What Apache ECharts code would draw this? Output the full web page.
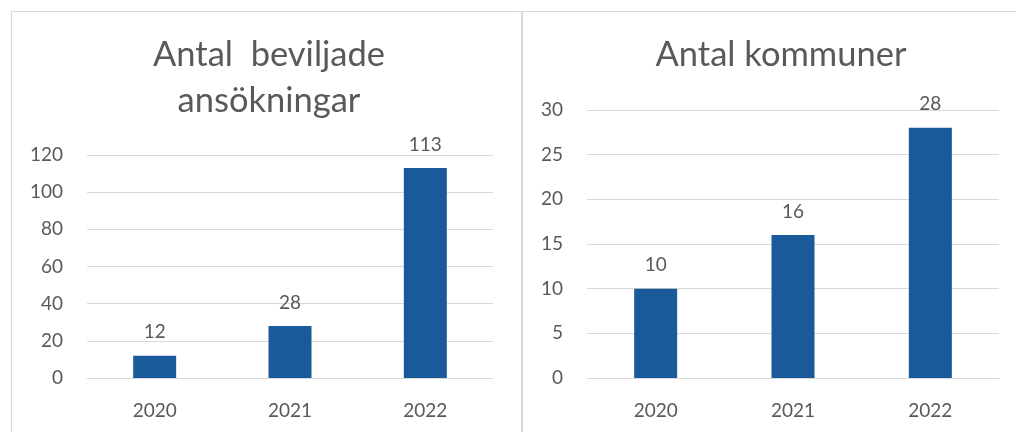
<!DOCTYPE html>
<html><head><meta charset="utf-8">
<script src="https://cdn.jsdelivr.net/npm/echarts@6/dist/echarts.min.js"></script>
<style>html,body{margin:0;padding:0;background:#fff}#c{width:1016px;height:432px}</style>
</head><body><div id="c"></div>
<script>
const categories = ['2020', '2021', '2022'];
const ansokningar = [12, 28, 113];
const kommuner = [10, 16, 28];
const title1 = 'Antal  beviljade\nansökningar';
const title2 = 'Antal kommuner';

const FONT = 'Lato';
const GREY = '#595959';
const BAR = '#1a5a9a';
const chart = echarts.init(document.getElementById('c'), null, {renderer: 'canvas'});

function xAx(i) {
  return {gridIndex: i, type: 'category', data: categories,
    axisLine: {show: true, lineStyle: {color: '#d9d9d9', width: 1}},
    axisTick: {show: false},
    axisLabel: {color: GREY, fontFamily: FONT, fontSize: 19, margin: 23}};
}
function yAx(i, max, interval) {
  return {gridIndex: i, type: 'value', min: 0, max: max, interval: interval,
    axisLine: {show: false}, axisTick: {show: false},
    splitLine: {lineStyle: {color: '#d9d9d9', width: 1}},
    axisLabel: {color: GREY, fontFamily: FONT, fontSize: 19, margin: 24}};
}
function ser(i, data) {
  return {type: 'bar', xAxisIndex: i, yAxisIndex: i, data: data, barWidth: 43,
    itemStyle: {color: BAR},
    label: {show: true, position: 'top', distance: 14, color: GREY, fontFamily: FONT, fontSize: 19}};
}

chart.setOption({
  animation: false,
  title: [
    {text: title1, left: 264, top: 27, textAlign: 'center',
      textStyle: {color: GREY, fontFamily: FONT, fontSize: 34.5, fontWeight: 'normal', lineHeight: 46}},
    {text: title2, left: 776, top: 27, textAlign: 'center',
      textStyle: {color: GREY, fontFamily: FONT, fontSize: 34.5, fontWeight: 'normal', lineHeight: 46}}
  ],
  grid: [
    {left: 87, right: 523, top: 155, bottom: 54},
    {left: 587, right: 17, top: 110, bottom: 54}
  ],
  xAxis: [xAx(0), xAx(1)],
  yAxis: [yAx(0, 120, 20), yAx(1, 30, 5)],
  series: [ser(0, ansokningar), ser(1, kommuner)],
  graphic: [
    {type: 'line', shape: {x1: 11, y1: 11.5, x2: 1016, y2: 11.5}, style: {stroke: '#d9d9d9', lineWidth: 1}},
    {type: 'line', shape: {x1: 11.5, y1: 11, x2: 11.5, y2: 432}, style: {stroke: '#d9d9d9', lineWidth: 1}},
    {type: 'line', shape: {x1: 522, y1: 11, x2: 522, y2: 432}, style: {stroke: '#d9d9d9', lineWidth: 2}}
  ]
});
</script></body></html>
